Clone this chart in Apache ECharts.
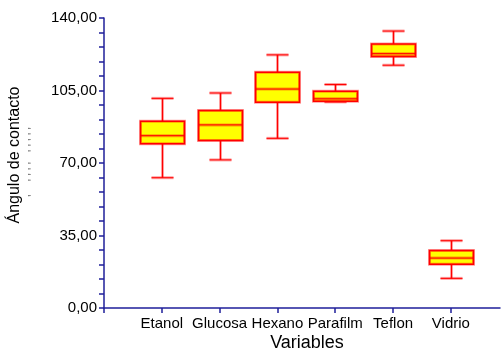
<!DOCTYPE html>
<html>
<head>
<meta charset="utf-8">
<script src="https://cdn.jsdelivr.net/npm/echarts@6/dist/echarts.min.js"></script>
<style>
  html, body { margin: 0; padding: 0; background: #fff; }
  #chart { width: 504px; height: 356px; }
</style>
</head>
<body>
<div id="chart"></div>
<script>
// Contact angle distribution per surface / liquid
const categories = ['Etanol', 'Glucosa', 'Hexano', 'Parafilm', 'Teflon', 'Vidrio'];
const mins    = [62.9, 71.5, 81.9,  99.5, 117.2, 14.3];
const q1s     = [79.3, 80.9, 99.3,  99.8, 121.4, 21.1];
const medians = [83.2, 88.4, 105.7, 101.0, 122.8, 24.1];
const q3s     = [90.2, 95.4, 113.8, 104.6, 127.5, 27.7];
const maxs    = [101.2, 103.8, 122.2, 107.9, 133.7, 32.5];
const yTicks  = [0, 35, 70, 105, 140];

const boxData = categories.map((c, i) => [i + 1, mins[i], q1s[i], medians[i], q3s[i], maxs[i]]);

const RED = '#ff0000';
const HALO = 'rgba(255,0,0,0.38)';
const BOX_W = 44;
const CAP_W = 22;

function segment(x1, y1, x2, y2, w, color) {
  return { type: 'line', shape: { x1, y1, x2, y2 }, style: { stroke: color, lineWidth: w }, silent: true };
}
function softLine(x1, y1, x2, y2) {
  return [segment(x1, y1, x2, y2, 3, HALO), segment(x1, y1, x2, y2, 1, RED)];
}

function renderBox(params, api) {
  const x = api.value(0);
  const pMin = api.coord([x, api.value(1)]);
  const pQ1  = api.coord([x, api.value(2)]);
  const pMed = api.coord([x, api.value(3)]);
  const pQ3  = api.coord([x, api.value(4)]);
  const pMax = api.coord([x, api.value(5)]);
  const cx = Math.round(pMed[0]) + 0.5;
  const bl = cx - BOX_W / 2, br = cx + BOX_W / 2;
  const cl = cx - CAP_W / 2, cr = cx + CAP_W / 2;
  const children = [];
  // whiskers and caps
  children.push(...softLine(cx, pMax[1], cx, pQ3[1]));
  children.push(...softLine(cx, pQ1[1], cx, pMin[1]));
  children.push(...softLine(cl, pMax[1], cr, pMax[1]));
  children.push(...softLine(cl, pMin[1], cr, pMin[1]));
  // box body
  children.push({
    type: 'rect',
    shape: { x: bl, y: pQ3[1], width: BOX_W, height: pQ1[1] - pQ3[1] },
    style: { fill: '#ffff00', stroke: HALO, lineWidth: 3 }
  });
  children.push({
    type: 'rect',
    shape: { x: bl, y: pQ3[1], width: BOX_W, height: pQ1[1] - pQ3[1] },
    style: { fill: 'none', stroke: RED, lineWidth: 1.5 }
  });
  // median
  children.push(...softLine(bl, pMed[1], br, pMed[1]));
  return { type: 'group', children };
}

const fmt = v => v.toFixed(2).replace('.', ',');
const AXIS = '#1f1f9a';
const FONT = 'Liberation Sans';

const chart = echarts.init(document.getElementById('chart'), null, { renderer: 'canvas' });
chart.setOption({
  animation: false,
  backgroundColor: '#ffffff',
  grid: { left: 104, right: 4, top: 18, bottom: 48 },
  xAxis: {
    type: 'value',
    min: 0,
    max: 6.85,
    interval: 1,
    splitLine: { show: false },
    axisLine: { lineStyle: { color: AXIS, width: 1.5 } },
    axisTick: { show: true, length: 5, customValues: [0, 1, 2, 3, 4, 5, 6], lineStyle: { color: AXIS, width: 1.5 } },
    axisLabel: {
      customValues: [1, 2, 3, 4, 5, 6],
      formatter: v => categories[Math.round(v) - 1] || '',
      color: '#000', fontFamily: FONT, fontSize: 15, margin: 8
    }
  },
  yAxis: {
    type: 'value',
    min: 0,
    max: 140,
    interval: 35,
    splitLine: { show: false },
    axisLine: { show: true, lineStyle: { color: AXIS, width: 1.5 } },
    axisTick: { show: true, length: 5, lineStyle: { color: AXIS, width: 1.5 } },
    minorTick: { show: true, splitNumber: 5, length: 5, lineStyle: { color: AXIS, width: 1.5 } },
    axisLabel: {
      customValues: yTicks,
      formatter: fmt,
      color: '#000', fontFamily: FONT, fontSize: 15, margin: 7
    }
  },
  graphic: [
    {
      type: 'text', x: 15, y: 155, rotation: Math.PI / 2,
      style: { text: 'Ángulo de contacto', fontFamily: FONT, fontSize: 16, fill: '#000', textAlign: 'center', textVerticalAlign: 'middle' }
    },
    {
      type: 'text', x: 34, y: 162, rotation: Math.PI / 2,
      style: { text: "'    ' ' ' '   ' ' ' ' '", fontFamily: FONT, fontSize: 12, fill: '#777', textAlign: 'center', textVerticalAlign: 'middle' }
    },
    {
      type: 'text', x: 307, y: 343,
      style: { text: 'Variables', fontFamily: FONT, fontSize: 18, fill: '#000', textAlign: 'center', textVerticalAlign: 'middle' }
    }
  ],
  series: [{
    type: 'custom',
    renderItem: renderBox,
    encode: { x: 0, y: [1, 2, 3, 4, 5] },
    data: boxData,
    clip: false
  }]
});
</script>
</body>
</html>
